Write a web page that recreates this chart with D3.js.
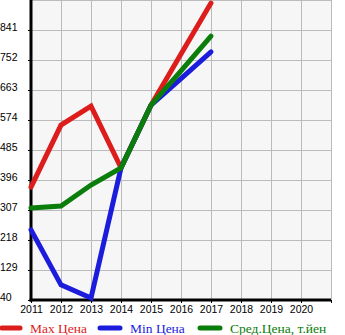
<!DOCTYPE html>
<html><head><meta charset="utf-8">
<script src="https://cdn.jsdelivr.net/npm/d3@7"></script>
<style>body{margin:0;background:#fff}svg{display:block}</style>
</head><body>
<svg id="c" width="345" height="335"></svg>
<script>
const years = [2011, 2012, 2013, 2014, 2015, 2016, 2017];
const xTicks = [2011, 2012, 2013, 2014, 2015, 2016, 2017, 2018, 2019, 2020];
const yTicks = [40, 129, 218, 307, 396, 485, 574, 663, 752, 841];
const maxPrice = [375, 559, 615, 432, 618, 770, 921];
const minPrice = [248, 85, 46, 432, 618, 697, 776];
const avgPrice = [313, 319, 381, 432, 618, 720, 823];
const seriesNames = ["Мах Цена", "Min Цена", "Сред.Цена, т.йен"];
const colors = ["#dd1c1c", "#1c1cdd", "#0a7d0a"];

const svg = d3.select("#c");
const L = 31, R = 331, T = 0, B = 300;
const x = d3.scaleLinear().domain([2011, 2021]).range([L, R]);
const y = d3.scaleLinear().domain([40, 930]).range([B, T]);

svg.append("rect").attr("x", L).attr("y", T).attr("width", R - L).attr("height", B - T).attr("fill", "#f6f6f6");

const g = svg.append("g");
g.selectAll(".vg").data(d3.range(2012, 2022)).enter().append("line")
  .attr("x1", d => x(d)).attr("x2", d => x(d)).attr("y1", T).attr("y2", B)
  .attr("stroke", "#bbbbbb").attr("stroke-width", 1).attr("shape-rendering", "crispEdges");
g.selectAll(".hg").data(yTicks.slice(1).concat([930])).enter().append("line")
  .attr("x1", L).attr("x2", R).attr("y1", d => y(d) + 0.5).attr("y2", d => y(d) + 0.5)
  .attr("stroke", "#bbbbbb").attr("stroke-width", 1).attr("shape-rendering", "crispEdges");

const yAxis = d3.axisLeft(y).tickValues(yTicks).tickSize(3).tickFormat(d3.format("d"));
const ya = svg.append("g").attr("transform", `translate(${L},0)`).call(yAxis);
ya.select(".domain").remove();
ya.selectAll("line").attr("stroke", "#000").attr("stroke-width", 1);
ya.selectAll("text").attr("x", -L).attr("dy", "0.05em").attr("text-anchor", "start")
  .style("font-family", "'Liberation Sans', Arial, sans-serif").style("font-size", "10.5px").attr("fill", "#000");

const xAxis = d3.axisBottom(x).tickValues(xTicks.concat([2021])).tickSize(3).tickFormat(d => d <= 2020 ? d : "");
const xa = svg.append("g").attr("transform", `translate(0,${B})`).call(xAxis);
xa.select(".domain").remove();
xa.selectAll("line").attr("stroke", "#000").attr("stroke-width", 1);
xa.selectAll("text").attr("y", 6).attr("dy", "0.71em")
  .style("font-family", "'Liberation Sans', Arial, sans-serif").style("font-size", "10.5px").attr("fill", "#000");

svg.append("line").attr("x1", L).attr("x2", L).attr("y1", 0).attr("y2", B + 1.5).attr("stroke", "#000").attr("stroke-width", 3);
svg.append("line").attr("x1", L - 1.5).attr("x2", R).attr("y1", B).attr("y2", B).attr("stroke", "#000").attr("stroke-width", 3);

const line = d3.line().x((d, i) => x(years[i])).y(d => y(d));
[maxPrice, minPrice, avgPrice].forEach((s, k) => {
  svg.append("path").datum(s).attr("d", line).attr("fill", "none")
    .attr("stroke", colors[k]).attr("stroke-width", 5).attr("stroke-linecap", "round").attr("stroke-linejoin", "miter");
});

const legX = [[2, 20, 30], [100, 120, 130], [200, 220, 230]];
const legY = 328;
seriesNames.forEach((n, k) => {
  svg.append("line").attr("x1", legX[k][0]).attr("x2", legX[k][1]).attr("y1", legY).attr("y2", legY)
    .attr("stroke", colors[k]).attr("stroke-width", 5).attr("stroke-linecap", "round");
  svg.append("text").attr("x", legX[k][2]).attr("y", legY).attr("dy", "0.35em").text(n)
    .style("font-family", "'Liberation Serif', 'Times New Roman', serif").style("font-size", "13.5px").attr("fill", colors[k]);
});
</script>
</body></html>
